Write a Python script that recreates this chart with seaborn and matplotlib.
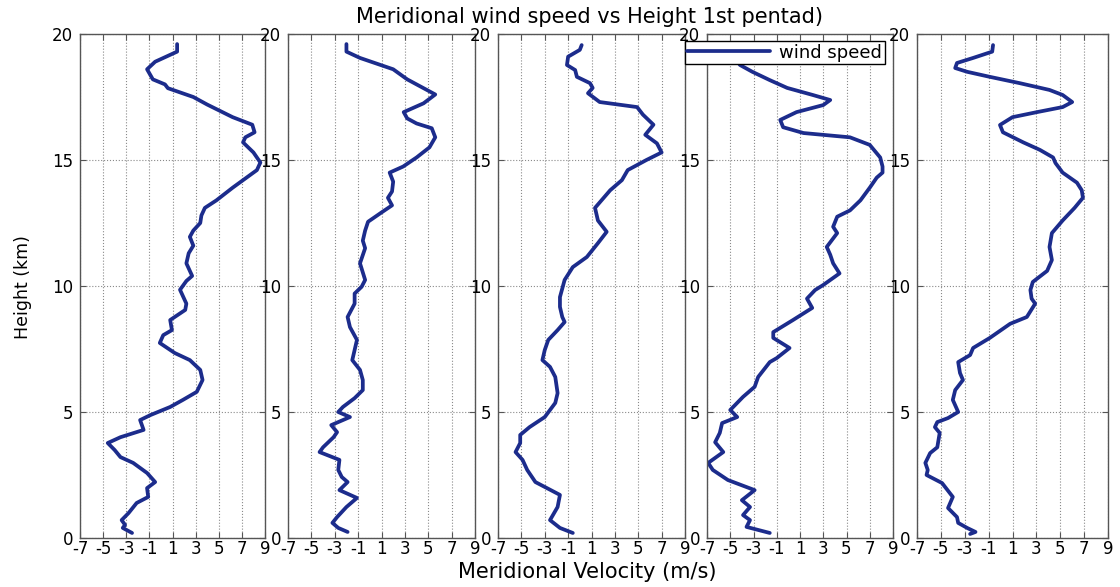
import matplotlib
matplotlib.use("Agg")
import matplotlib.pyplot as plt
import seaborn as sns

# ---- data: meridional velocity (m/s) against height (km), one profile per panel ----
height_p1 = [19.6, 19.3, 18.9, 18.6, 18.2, 18.0, 17.85, 17.5, 17.2, 16.7,
             16.4, 16.1, 15.9, 15.7, 15.3, 14.9, 14.6, 14.3, 13.9, 13.4,
             13.1, 12.8, 12.5, 12.2, 11.95, 11.6, 11.3, 10.9, 10.4, 10.2,
             9.85, 9.6, 9.3, 9.05, 8.65, 8.25, 8.05, 7.74, 7.34, 7.06,
             6.67, 6.27, 5.8, 5.48, 5.2, 4.88, 4.68, 4.29, 4.0, 3.77,
             3.49, 3.21, 2.98, 2.58, 2.22, 1.98, 1.63, 1.39, 0.99, 0.71,
             0.52, 0.40, 0.2]
vel_p1 = [1.4, 1.4, -0.5, -1.2, -0.7, 0.35, 0.6, 2.8, 4.0, 6.2,
          7.9, 8.1, 7.3, 7.1, 8.0, 8.6, 8.3, 7.4, 6.2, 4.8,
          3.8, 3.5, 3.4, 2.8, 2.5, 2.8, 2.4, 2.2, 2.7, 2.2,
          1.65, 1.9, 2.2, 2.1, 0.8, 0.95, 0.2, -0.1, 1.2, 2.5,
          3.4, 3.6, 3.1, 1.9, 0.8, -0.9, -1.8, -1.5, -3.5, -4.6,
          -4.0, -3.5, -2.4, -1.2, -0.5, -1.2, -1.1, -2.1, -2.8, -3.4,
          -3.1, -3.3, -2.5]

height_p2 = [19.6, 19.3, 19.05, 18.6, 18.2, 17.85, 17.6, 17.25, 16.9, 16.65,
             16.45, 16.26, 15.9, 15.5, 15.1, 14.74, 14.5, 14.14, 13.75, 13.5,
             13.2, 12.95, 12.55, 12.2, 11.8, 11.5, 10.9, 10.24, 9.97, 9.7,
             9.3, 8.77, 8.37, 7.86, 7.46, 7.06, 6.67, 6.27, 5.87, 5.55,
             5.2, 5.0, 4.8, 4.48, 4.2, 4.0, 3.6, 3.41, 3.1, 2.7,
             2.42, 2.22, 1.9, 1.59, 1.23, 0.83, 0.6, 0.40, 0.24]
vel_p2 = [-2.0, -2.0, -0.84, 2.0, 3.2, 4.6, 5.6, 4.6, 2.9, 3.2,
          4.0, 5.3, 5.6, 5.1, 4.0, 2.85, 1.7, 2.0, 1.9, 1.55,
          1.9, 1.1, -0.15, -0.4, -0.6, -0.4, -0.84, -0.4, -0.7, -1.3,
          -1.3, -1.9, -1.7, -1.1, -1.3, -1.5, -0.84, -0.6, -0.6, -1.3,
          -2.3, -2.7, -1.7, -3.3, -2.8, -3.1, -4.0, -4.3, -2.6, -2.7,
          -2.4, -1.9, -2.6, -1.1, -2.0, -2.8, -3.2, -2.7, -1.9]

height_p3 = [19.56, 19.37, 19.1, 18.77, 18.57, 18.3, 18.05, 17.86, 17.65, 17.3,
             17.1, 16.8, 16.4, 16.0, 15.66, 15.3, 15.0, 14.6, 14.2, 13.8,
             13.1, 12.6, 12.15, 11.7, 11.15, 10.75, 10.24, 9.9, 9.56, 9.17,
             8.77, 8.57, 8.25, 7.86, 7.46, 7.06, 6.79, 6.39, 5.75, 5.36,
             4.8, 4.4, 4.09, 3.77, 3.41, 3.1, 2.7, 2.22, 1.71, 1.23,
             0.71, 0.40, 0.2]
vel_p3 = [0.16, 0.0, -1.0, -1.1, -0.4, -0.25, 0.87, 1.1, 0.7, 1.7,
          4.9, 5.4, 6.3, 5.6, 6.6, 7.0, 5.7, 4.1, 3.6, 2.6,
          1.3, 1.55, 2.3, 1.55, 0.6, -0.6, -1.3, -1.5, -1.7, -1.7,
          -1.5, -1.3, -1.9, -2.7, -3.0, -3.2, -2.55, -2.1, -1.9, -2.1,
          -3.0, -4.3, -5.1, -5.1, -5.5, -4.9, -4.5, -3.8, -1.7, -1.9,
          -2.55, -1.7, -0.6]

height_p4 = [19.55, 19.1, 18.77, 18.5, 18.17, 17.86, 17.58, 17.38, 17.18, 16.9,
             16.59, 16.3, 16.07, 15.9, 15.6, 15.1, 14.74, 14.5, 14.3, 13.9,
             13.4, 13.0, 12.75, 12.35, 12.1, 11.55, 11.24, 10.9, 10.5, 10.04,
             9.84, 9.5, 9.13, 8.65, 8.17, 7.94, 7.54, 7.14, 6.98, 6.39,
             6.0, 5.6, 5.08, 4.8, 4.56, 4.17, 3.8, 3.41, 2.98, 2.7,
             2.3, 1.9, 1.5, 1.23, 0.91, 0.71, 0.44, 0.2]
vel_p4 = [-4.5, -4.7, -4.16, -3.1, -1.6, -0.1, 2.1, 3.6, 3.0, 0.7,
          -0.7, -0.45, 1.3, 5.3, 7.0, 7.9, 8.1, 8.1, 7.6, 7.0,
          6.2, 5.3, 4.2, 3.85, 4.2, 3.3, 3.6, 3.85, 4.4, 3.0,
          2.3, 1.6, 2.05, 0.4, -1.3, -1.3, 0.1, -1.0, -1.6, -2.6,
          -2.9, -3.9, -5.0, -4.4, -5.7, -5.9, -6.3, -5.6, -6.9, -6.5,
          -5.2, -2.9, -4.0, -3.3, -3.9, -3.3, -3.6, -1.6]

height_p5 = [19.56, 19.3, 19.05, 18.85, 18.65, 18.5, 18.3, 18.05, 17.78, 17.58,
             17.3, 17.1, 16.9, 16.7, 16.39, 16.1, 15.7, 15.4, 15.1, 14.88,
             14.5, 14.1, 13.8, 13.5, 13.1, 12.6, 12.1, 11.55, 11.03, 10.6,
             10.16, 9.84, 9.5, 9.3, 8.77, 8.5, 7.94, 7.54, 7.26, 6.98,
             6.55, 6.27, 5.87, 5.48, 5.0, 4.76, 4.6, 4.4, 4.17, 3.6,
             3.37, 2.98, 2.7, 2.5, 2.18, 1.63, 1.19, 0.83, 0.6, 0.40,
             0.24, 0.16]
vel_p5 = [-0.63, -0.7, -2.3, -3.65, -3.8, -2.8, -0.9, 1.6, 4.1, 5.2,
          6.0, 5.2, 3.05, 1.0, -0.05, 0.2, 1.9, 3.3, 4.4, 4.6,
          5.2, 6.4, 6.8, 6.9, 6.2, 5.2, 4.3, 4.1, 4.3, 3.9,
          2.7, 2.5, 2.6, 2.9, 2.2, 0.8, -0.9, -2.3, -2.55, -3.55,
          -3.4, -3.15, -3.8, -4.0, -3.55, -4.4, -5.3, -5.5, -5.1, -5.3,
          -5.9, -6.3, -6.1, -6.2, -4.9, -4.0, -4.4, -3.65, -3.55, -2.8,
          -2.1, -2.55]

profiles = [(vel_p1, height_p1), (vel_p2, height_p2), (vel_p3, height_p3),
            (vel_p4, height_p4), (vel_p5, height_p5)]

x_ticks = [-7, -5, -3, -1, 1, 3, 5, 7, 9]
x_tick_labels = ["-7", "-5", "-3", "-1", "1", "3", "5", "7", "9"]
y_ticks = [0, 5, 10, 15, 20]
y_tick_labels = ["0", "5", "10", "15", "20"]

title_text = "Meridional wind speed vs Height 1st pentad)"
x_label_text = "Meridional Velocity (m/s)"
y_label_text = "Height (km)"
legend_label = "wind speed"

# ---- style ----
sns.set_theme(style="white")
plt.rcParams.update({
    "font.family": ["DejaVu Sans"],
    "text.color": "black",
    "axes.unicode_minus": False,
    "axes.edgecolor": "#555555",
    "axes.linewidth": 1.0,
    "xtick.direction": "in",
    "ytick.direction": "in",
    "xtick.top": True,
    "ytick.right": True,
    "xtick.bottom": True,
    "ytick.left": True,
    "xtick.major.size": 4,
    "ytick.major.size": 4,
    "xtick.major.width": 0.8,
    "ytick.major.width": 0.8,
    "xtick.color": "#555555",
    "ytick.color": "#555555",
    "xtick.labelcolor": "black",
    "ytick.labelcolor": "black",
})

LINE_COLOR = "#1c2c8c"
FIG_W, FIG_H = 1120, 587
fig = plt.figure(figsize=(FIG_W / 100, FIG_H / 100), dpi=100)
fig.patch.set_facecolor("white")

panel_left = [80, 288, 498, 707, 917]
panel_width = [185, 187, 187, 186, 191]
panel_top, panel_bottom = 34, 538

axes = []
for i, ((vel, hgt), left, width) in enumerate(zip(profiles, panel_left, panel_width)):
    ax = fig.add_axes([left / FIG_W, 1 - panel_bottom / FIG_H,
                       width / FIG_W, (panel_bottom - panel_top) / FIG_H])
    sns.lineplot(x=vel, y=hgt, ax=ax, sort=False, estimator=None,
                 color=LINE_COLOR, linewidth=2.7,
                 label=legend_label if i == 3 else None, legend=False)
    ax.set_xlim(-7, 9)
    ax.set_ylim(0, 20)
    ax.set_xticks(x_ticks)
    ax.set_xticklabels(x_tick_labels)
    ax.set_yticks(y_ticks)
    ax.set_yticklabels(y_tick_labels)
    ax.set_xlabel("")
    ax.set_ylabel("")
    ax.grid(True, linestyle=":", color="#8a8a8a", linewidth=0.8)
    ax.tick_params(axis="x", labelsize=12, pad=1.5)
    ax.tick_params(axis="y", labelsize=12, pad=5)
    axes.append(ax)

leg = axes[3].legend(loc="upper right",
                     bbox_to_anchor=(885 / FIG_W, 1 - 41 / FIG_H),
                     bbox_transform=fig.transFigure, borderaxespad=0,
                     fontsize=13, handlelength=4.6, handletextpad=0.5,
                     borderpad=0.15, fancybox=False, framealpha=1,
                     edgecolor="black")
leg.get_frame().set_linewidth(1.0)
for txt in leg.get_texts():
    txt.set_color("black")

fig.text(589 / FIG_W, 1 - 17 / FIG_H, title_text, ha="center", va="center",
         fontsize=15, color="black")
fig.text(587 / FIG_W, 1 - 572 / FIG_H, x_label_text, ha="center", va="center",
         fontsize=15, color="black")
fig.text(23 / FIG_W, 1 - 287 / FIG_H, y_label_text, rotation=90,
         ha="center", va="center", fontsize=12.5, color="black")

fig.savefig("out.png", dpi=100)
